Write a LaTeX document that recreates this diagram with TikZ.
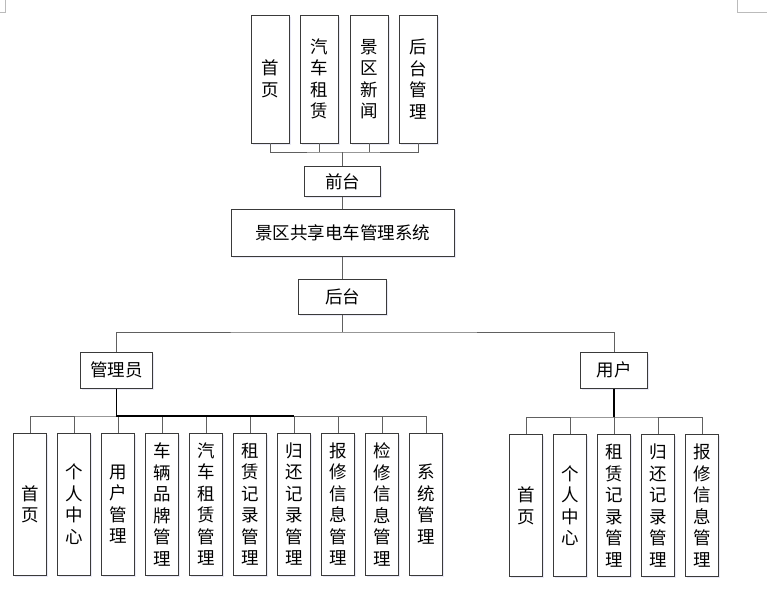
\documentclass[tikz,border=0pt]{standalone}
\usepackage{fontspec}
\newfontfamily\cjk{Noto Sans CJK SC}
\usetikzlibrary{shadows}
\definecolor{boxline}{HTML}{3A3A3A}
\definecolor{conline}{HTML}{606060}
\definecolor{markgray}{HTML}{BBBBBB}
\tikzset{
  box/.style={draw=boxline, line width=0.9pt, fill=white, inner sep=0pt, align=center,
    font=\cjk\fontsize{17.5}{21.5}\selectfont,
    drop shadow={fill=blue!40!gray, opacity=0.12, shadow xshift=1.5pt, shadow yshift=-1.5pt}},
  vtop/.style={box, minimum width=38pt, minimum height=128pt},
  vbot/.style={box, minimum width=33.4pt, minimum height=142pt},
  con/.style={draw=conline, line width=0.8pt},
  trunk/.style={draw=black, line width=1.3pt},
}
\begin{document}
\begin{tikzpicture}[x=1pt,y=-1pt]
\useasboundingbox (0,0) rectangle (780,589);
% page corner marks
\draw[markgray, line width=0.6pt] (5,0) -- (5,12) -- (0,12);
\draw[markgray, line width=0.6pt] (737,0) -- (737,12) -- (767,12);

% top row
\node[vtop] (t1) at (270,79) {首\\页};
\node[vtop] (t2) at (319.5,79) {汽\\车\\租\\赁};
\node[vtop] (t3) at (369,79) {景\\区\\新\\闻};
\node[vtop] (t4) at (418.5,79) {后\\台\\管\\理};

\node[box, minimum width=76pt, minimum height=29.6pt] (qt) at (342.5,181.5) {前台};
\node[box, minimum width=223pt, minimum height=47.7pt] (sys) at (342.5,232.8) {景区共享电车管理系统};
\node[box, minimum width=88pt, minimum height=35pt] (ht) at (342.5,296.7) {后台};

\node[box, minimum width=71.6pt, minimum height=36pt] (adm) at (116.5,370.3) {管理员};
\node[box, minimum width=67.7pt, minimum height=36pt] (usr) at (614,370.3) {用户};

% admin children
\node[vbot] (a1) at (30,504.3) {首\\页};
\node[vbot] (a2) at (74,504.3) {个\\人\\中\\心};
\node[vbot] (a3) at (118,504.3) {用\\户\\管\\理};
\node[vbot] (a4) at (162,504.3) {车\\辆\\品\\牌\\管\\理};
\node[vbot] (a5) at (206,504.3) {汽\\车\\租\\赁\\管\\理};
\node[vbot] (a6) at (250,504.3) {租\\赁\\记\\录\\管\\理};
\node[vbot] (a7) at (294,504.3) {归\\还\\记\\录\\管\\理};
\node[vbot] (a8) at (338,504.3) {报\\修\\信\\息\\管\\理};
\node[vbot] (a9) at (382,504.3) {检\\修\\信\\息\\管\\理};
\node[vbot] (a10) at (426,504.3) {系\\统\\管\\理};

% user children
\node[vbot] (u1) at (526,505.8) {首\\页};
\node[vbot] (u2) at (570,505.8) {个\\人\\中\\心};
\node[vbot] (u3) at (614,505.8) {租\\赁\\记\\录\\管\\理};
\node[vbot] (u4) at (658,505.8) {归\\还\\记\\录\\管\\理};
\node[vbot] (u5) at (702,505.8) {报\\修\\信\\息\\管\\理};

% junctions
\coordinate (j1) at (342.5,152);
\coordinate (j2) at (342.5,332);
\coordinate (j3) at (116.5,416);
\coordinate (j4) at (614,417);

% top connectors
\draw[con] (t1.south) |- (j1) -| (t4.south);
\draw[con] (t2.south) -- (t2.south |- j1);
\draw[con] (t3.south) -- (t3.south |- j1);
\draw[con] (j1) -- (qt.north);
\draw[con] (qt.south) -- (sys.north);
\draw[con] (sys.south) -- (ht.north);
\draw[con] (ht.south) -- (j2);
\draw[con] (adm.north) |- (j2) -| (usr.north);

% admin connectors
\draw[con] (a1.north) |- (j3) -| (a10.north);
\foreach \i in {2,...,9} {\draw[con] (a\i.north) -- (a\i.north |- j3);}
\draw[trunk] (adm.south) -- (j3) -- (j3 -| a7.north);

% user connectors
\draw[con] (u1.north) |- (j4) -| (u5.north);
\foreach \i in {2,3,4} {\draw[con] (u\i.north) -- (u\i.north |- j4);}
\draw[trunk] (usr.south) -- (j4);
\end{tikzpicture}
\end{document}
